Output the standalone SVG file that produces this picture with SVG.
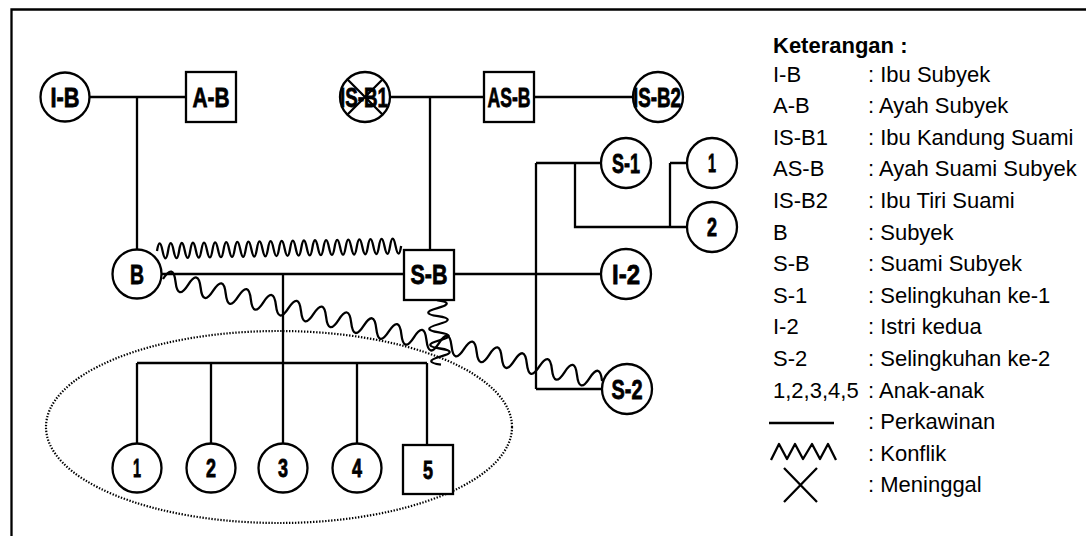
<svg xmlns="http://www.w3.org/2000/svg" width="1086" height="536" viewBox="0 0 1086 536">
<style>
.ln{stroke:#000;stroke-width:2.3;fill:none}
.wv{stroke:#000;stroke-width:2.3;fill:none;stroke-linejoin:round}
.nd{fill:#fff;stroke:#000;stroke-width:2.3}
.lb{font-family:"Liberation Sans",Arial,sans-serif;font-weight:bold;font-size:28px;text-anchor:middle;stroke:#000;stroke-width:0.8}
.dg{font-family:"Liberation Sans",Arial,sans-serif;font-weight:bold;font-size:25px;text-anchor:middle;stroke:#000;stroke-width:0.8}
.lg{font-family:"Liberation Sans",Arial,sans-serif;font-size:22px;fill:#000}
</style>
<rect x="0" y="0" width="1086" height="536" fill="#fff"/>
<path d="M11.5,536 V9.5 H1086" class="ln"/>
<ellipse cx="279" cy="427" rx="233" ry="96" fill="none" stroke="#000" stroke-width="2.2" stroke-dasharray="1.4 1.6"/>
<g id="connectors">
  <path class="ln" d="M89,97 H186 M137,97 V250"/>
  <path class="ln" d="M390,97 H484 M534,97 H633 M430,97 V250"/>
  <path class="ln" d="M161,274 H404 M283,274 V363 M137,363 H427 M137,363 V444 M211,363 V444 M283,363 V444 M357,363 V444 M427,363 V445"/>
  <path class="ln" d="M454,274 H601 M536,163 V389 M536,163 H601 M536,389 H602"/>
  <path class="ln" d="M575,163 V227 H687 M670,163 V227 M670,163 H687"/>
  <path class="wv" transform="translate(157,251) rotate(-1.17)" d="M0,0 q2.78,-15 5.55,0 t5.55,0 t5.55,0 t5.55,0 t5.55,0 t5.55,0 t5.55,0 t5.55,0 t5.55,0 t5.55,0 t5.55,0 t5.55,0 t5.55,0 t5.55,0 t5.55,0 t5.55,0 t5.55,0 t5.55,0 t5.55,0 t5.55,0 t5.55,0 t5.55,0 t5.55,0 t5.55,0 t5.55,0 t5.55,0 t5.55,0 t5.55,0 t5.55,0 t5.55,0 t5.55,0 t5.55,0 t5.55,0 t5.55,0 t5.55,0 t5.55,0 t5.55,0 t5.55,0 t5.55,0 t5.55,0 t5.55,0 t5.55,0 t5.55,0 t5.55,0"/>
  <path class="wv" transform="translate(163,279) rotate(13.08)" d="M0,0 q6.44,-18 12.88,0 t12.88,0 t12.88,0 t12.88,0 t12.88,0 t12.88,0 t12.88,0 t12.88,0 t12.88,0 t12.88,0 t12.88,0 t12.88,0 t12.88,0 t12.88,0 t12.88,0 t12.88,0 t12.88,0 t12.88,0 t12.88,0 t12.88,0 t12.88,0 t12.88,0 t12.88,0 t12.88,0 t12.88,0 t12.88,0 t12.88,0 t12.88,0 t12.88,0 t12.88,0 t12.88,0 t12.88,0 t12.88,0 t12.88,0 t12.88,0"/>
  <path class="wv" transform="translate(437,300) rotate(86.5)" d="M0,0 q4.05,-19 8.1,0 t8.1,0 t8.1,0 t8.1,0 t8.1,0 t8.1,0 t8.1,0 t8.1,0"/>
</g>
<g id="I-B"><circle class="nd" cx="65" cy="97" r="24.5"/><text class="lb" x="65" y="107" textLength="29" lengthAdjust="spacingAndGlyphs">I-B</text></g>
<g id="A-B"><rect class="nd" x="186" y="72" width="50" height="50"/><text class="lb" x="211" y="107" textLength="37" lengthAdjust="spacingAndGlyphs">A-B</text></g>
<g id="IS-B1"><circle class="nd" cx="365" cy="97" r="25"/><path class="ln" d="M347.3,79.3 L382.7,114.7 M382.7,79.3 L347.3,114.7"/><text class="lb" x="364" y="107" textLength="48" lengthAdjust="spacingAndGlyphs">IS-B1</text></g>
<g id="AS-B"><rect class="nd" x="484" y="72" width="50" height="50"/><text class="lb" x="509" y="107" textLength="43" lengthAdjust="spacingAndGlyphs">AS-B</text></g>
<g id="IS-B2"><circle class="nd" cx="658" cy="97" r="25"/><text class="lb" x="657" y="107" textLength="48" lengthAdjust="spacingAndGlyphs">IS-B2</text></g>
<g id="B"><circle class="nd" cx="137" cy="274" r="24.5"/><text class="lb" x="137" y="284" textLength="14" lengthAdjust="spacingAndGlyphs">B</text></g>
<g id="S-B"><rect class="nd" x="404" y="250" width="50" height="50"/><text class="lb" x="429" y="284" textLength="37" lengthAdjust="spacingAndGlyphs">S-B</text></g>
<g id="S-1"><circle class="nd" cx="626" cy="163" r="25"/><text class="lb" x="626" y="173" textLength="28" lengthAdjust="spacingAndGlyphs">S-1</text></g>
<g id="S1-child-1"><circle class="nd" cx="712" cy="163" r="25"/><text class="dg" x="712" y="172" textLength="8" lengthAdjust="spacingAndGlyphs">1</text></g>
<g id="S1-child-2"><circle class="nd" cx="712" cy="227" r="25"/><text class="dg" x="712" y="236" textLength="10" lengthAdjust="spacingAndGlyphs">2</text></g>
<g id="I-2"><circle class="nd" cx="626" cy="274" r="25"/><text class="lb" x="626" y="284" textLength="28" lengthAdjust="spacingAndGlyphs">I-2</text></g>
<g id="S-2"><circle class="nd" cx="627" cy="389" r="25"/><text class="lb" x="627" y="399" textLength="31" lengthAdjust="spacingAndGlyphs">S-2</text></g>
<g id="child-1"><circle class="nd" cx="137" cy="468" r="24.5"/><text class="dg" x="137" y="477" textLength="8" lengthAdjust="spacingAndGlyphs">1</text></g>
<g id="child-2"><circle class="nd" cx="211" cy="468" r="24.5"/><text class="dg" x="211" y="477" textLength="10" lengthAdjust="spacingAndGlyphs">2</text></g>
<g id="child-3"><circle class="nd" cx="283" cy="468" r="24.5"/><text class="dg" x="283" y="477" textLength="10" lengthAdjust="spacingAndGlyphs">3</text></g>
<g id="child-4"><circle class="nd" cx="357" cy="468" r="24.5"/><text class="dg" x="357" y="477" textLength="10" lengthAdjust="spacingAndGlyphs">4</text></g>
<g id="child-5"><rect class="nd" x="403" y="445" width="50" height="49"/><text class="dg" x="428" y="478.5" textLength="10" lengthAdjust="spacingAndGlyphs">5</text></g>
<g id="legend">
  <text class="lg" x="773" y="53" font-weight="bold">Keterangan :</text>
  <text class="lg" x="773" y="81.5">I-B</text><text class="lg" x="868" y="81.5">: Ibu Subyek</text>
  <text class="lg" x="773" y="113.1">A-B</text><text class="lg" x="868" y="113.1">: Ayah Subyek</text>
  <text class="lg" x="773" y="144.7">IS-B1</text><text class="lg" x="868" y="144.7">: Ibu Kandung Suami</text>
  <text class="lg" x="773" y="176.3">AS-B</text><text class="lg" x="868" y="176.3">: Ayah Suami Subyek</text>
  <text class="lg" x="773" y="207.9">IS-B2</text><text class="lg" x="868" y="207.9">: Ibu Tiri Suami</text>
  <text class="lg" x="773" y="239.5">B</text><text class="lg" x="868" y="239.5">: Subyek</text>
  <text class="lg" x="773" y="271.1">S-B</text><text class="lg" x="868" y="271.1">: Suami Subyek</text>
  <text class="lg" x="773" y="302.7">S-1</text><text class="lg" x="868" y="302.7">: Selingkuhan ke-1</text>
  <text class="lg" x="773" y="334.3">I-2</text><text class="lg" x="868" y="334.3">: Istri kedua</text>
  <text class="lg" x="773" y="365.9">S-2</text><text class="lg" x="868" y="365.9">: Selingkuhan ke-2</text>
  <text class="lg" x="773" y="397.5">1,2,3,4,5</text><text class="lg" x="868" y="397.5">: Anak-anak</text>
  <path class="ln" d="M769,423 H834" stroke-width="2.5"/><text class="lg" x="868" y="429.1">: Perkawinan</text>
  <path class="wv" d="M771,460 L779,444 L787,459 L795,444 L803,459 L812,444 L820,459 L828,444 L836,460"/><text class="lg" x="868" y="460.7">: Konflik</text>
  <path class="ln" d="M784,468 L817,502 M817,468 L784,502"/><text class="lg" x="868" y="492.3">: Meninggal</text>
</g>
</svg>
